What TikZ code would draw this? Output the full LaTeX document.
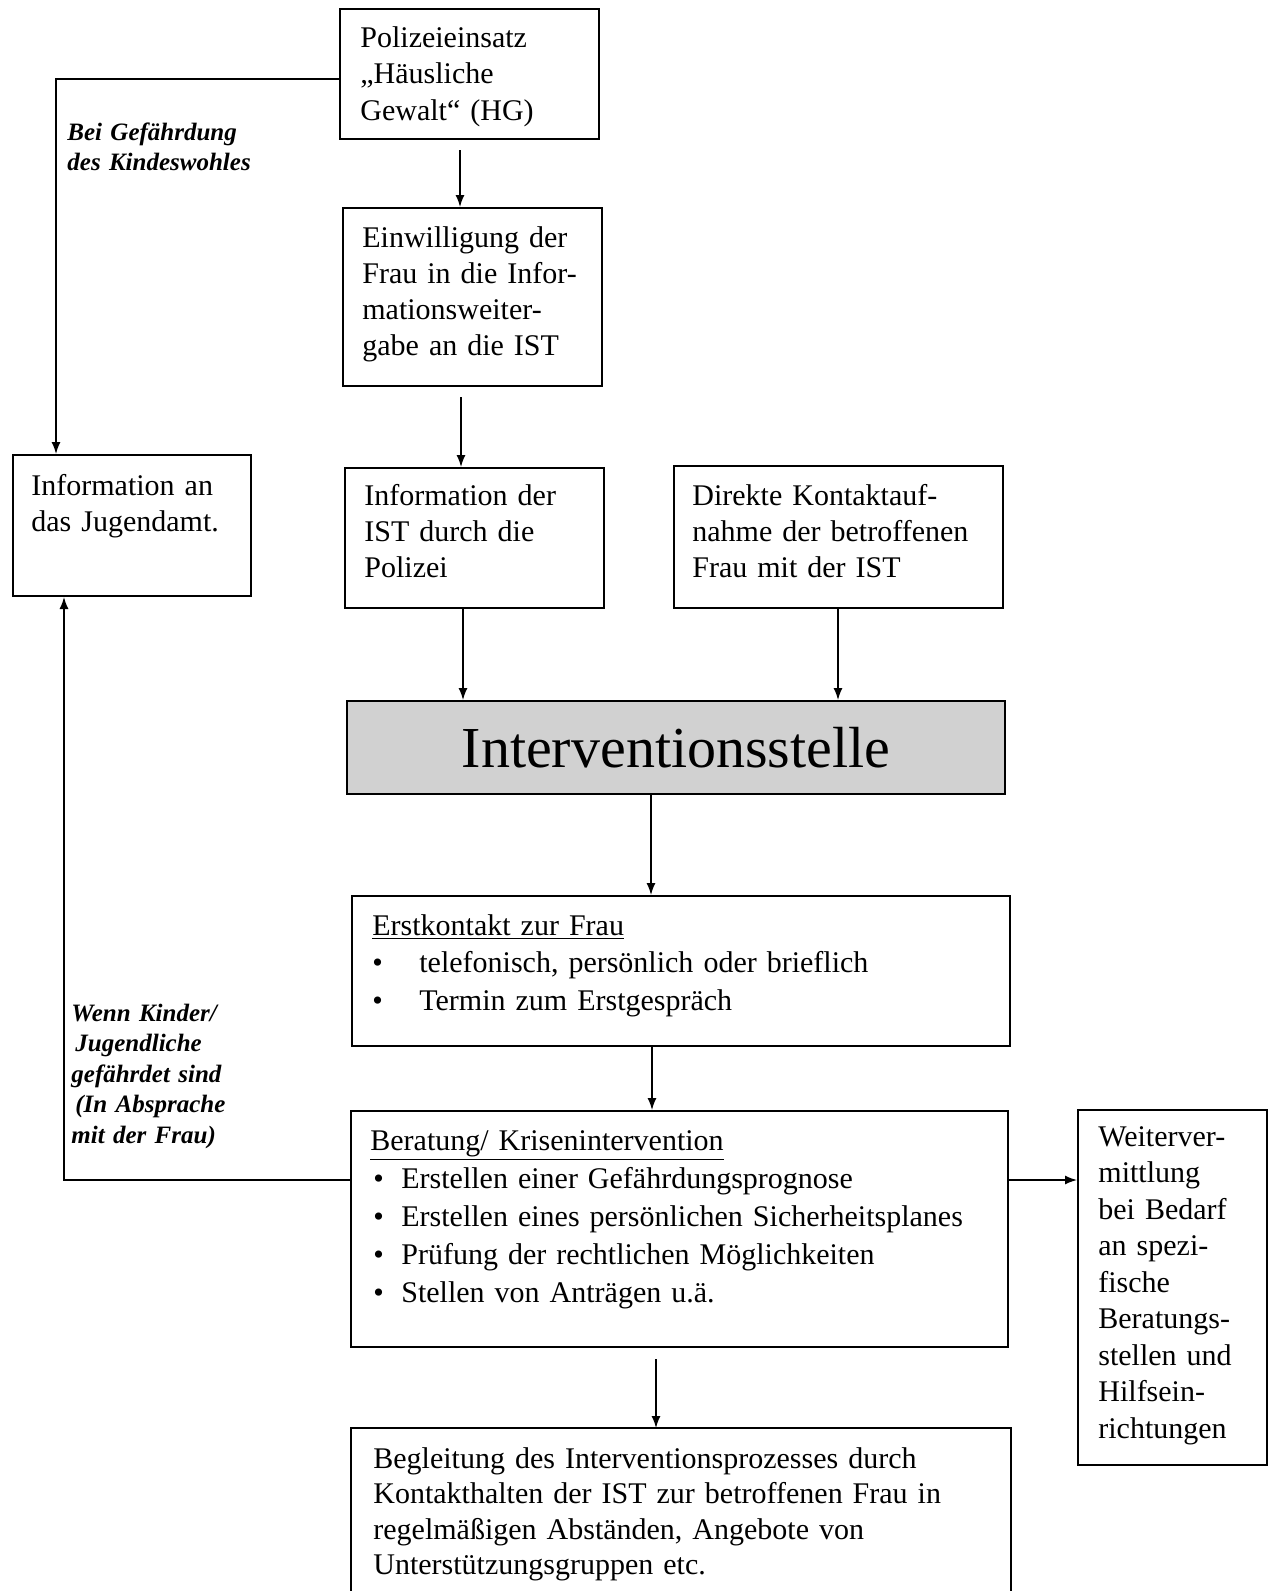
\documentclass[tikz,border=0pt]{standalone}
\usepackage{fontspec}
\setmainfont{Liberation Serif}
\usetikzlibrary{arrows.meta}
\begin{document}
\begin{tikzpicture}[x=0.5pt,y=-0.5pt,
  box/.style={draw, line width=1pt, inner sep=0pt, anchor=north west},
  txt/.style={anchor=base west, inner sep=0pt, align=left, text width=300pt, font=\fontsize{15}{18.25}\selectfont},
  lbl/.style={anchor=base west, inner sep=0pt, align=left, text width=120pt, font=\fontsize{12.5}{15}\selectfont\bfseries\itshape},
  conn/.style={line width=0.7pt, -{Latex[length=6pt,width=4.5pt]}},
]
\useasboundingbox (0,0) rectangle (1271,1591);

% boxes
\node[box, minimum width=129.5pt, minimum height=65pt] (pol) at (339,8) {};
\node[box, minimum width=129.5pt, minimum height=89pt] (ein) at (342,207) {};
\node[box, minimum width=119pt, minimum height=70.5pt] (jug) at (12,454) {};
\node[box, minimum width=129.5pt, minimum height=70pt] (ist) at (344,467) {};
\node[box, minimum width=164.5pt, minimum height=71pt] (dir) at (673,465) {};
\node[box, fill=black!18, minimum width=329pt, minimum height=46.5pt] (itv) at (346,700) {};
\node[box, minimum width=329pt, minimum height=75pt] (erst) at (351,895) {};
\node[box, minimum width=328.5pt, minimum height=118pt] (ber) at (350,1110) {};
\node[box, minimum width=94.5pt, minimum height=177.5pt] (wei) at (1077,1109) {};
\node[box, draw=none, minimum width=329pt, minimum height=90pt] (begl) at (351,1428) {};
\draw[line width=1pt] (begl.south west) -- (begl.north west) -- (begl.north east) -- (begl.south east);

% texts
\node[txt] (polt) at (360,47) {Polizeieinsatz\\„Häusliche\\Gewalt“ (HG)};
\node[txt, font=\fontsize{15}{18.15}\selectfont] (eint) at (362,247) {Einwilligung der\\Frau in die Infor-\\mationsweiter-\\gabe an die IST};
\node[txt, font=\fontsize{15}{18}\selectfont] (jugt) at (31,495) {Information an\\das Jugendamt.};
\node[txt, font=\fontsize{15}{18}\selectfont] (istt) at (364,505) {Information der\\IST durch die\\Polizei};
\node[txt, font=\fontsize{15}{18}\selectfont] (dirt) at (692,505) {Direkte Kontaktauf-\\nahme der betroffenen\\Frau mit der IST};
\node[inner sep=0pt, font=\fontsize{29}{32}\selectfont] (itvt) at (itv.center) {Interventionsstelle};
\node[txt, font=\fontsize{15}{18.75}\selectfont] (erstt) at (372,935) {\underline{Erstkontakt zur Frau}\\
\makebox[23.5pt][l]{\textbullet}telefonisch, persönlich oder brieflich\\
\makebox[23.5pt][l]{\textbullet}Termin zum Erstgespräch};
\node[txt, font=\fontsize{15}{19}\selectfont] (bert) at (370,1150) {\underline{Beratung/ Krisenintervention}\\
\hspace*{1.5pt}\makebox[14pt][l]{\textbullet}Erstellen einer Gefährdungsprognose\\
\hspace*{1.5pt}\makebox[14pt][l]{\textbullet}Erstellen eines persönlichen Sicherheitsplanes\\
\hspace*{1.5pt}\makebox[14pt][l]{\textbullet}Prüfung der rechtlichen Möglichkeiten\\
\hspace*{1.5pt}\makebox[14pt][l]{\textbullet}Stellen von Anträgen u.ä.};
\node[txt, font=\fontsize{15}{18.25}\selectfont] (weit) at (1098,1146) {Weiterver-\\mittlung\\bei Bedarf\\an spezi-\\fische\\Beratungs-\\stellen und\\Hilfsein-\\richtungen};
\node[txt, font=\fontsize{15}{17.75}\selectfont] (beglt) at (373,1468) {Begleitung des Interventionsprozesses durch\\Kontakthalten der IST zur betroffenen Frau in\\regelmäßigen Abständen, Angebote von\\Unterstützungsgruppen etc.};

% labels
\node[lbl] (l1) at (67,140) {Bei Gefährdung\\des Kindeswohles};
\node[lbl, font=\fontsize{12.5}{15.25}\selectfont\bfseries\itshape] (l2) at (71,1021) {Wenn Kinder/\\\hspace*{2pt}Jugendliche\\gefährdet sind\\\hspace*{2pt}(In Absprache\\mit der Frau)};

% column / row helpers
\coordinate (c1) at (460,0);
\coordinate (c2) at (461,0);
\coordinate (c3) at (463,0);
\coordinate (c4) at (838,0);
\coordinate (c5) at (651,0);
\coordinate (c6) at (652,0);
\coordinate (c7) at (656,0);
\coordinate (jl) at (56,0);
\coordinate (jr) at (64,0);
\coordinate (rt) at (0,79);
\coordinate (rr) at (0,1180);

% connectors
\draw[conn, shorten <=5pt] (pol.south -| c1) -- (ein.north -| c1);
\draw[conn, shorten <=5pt] (ein.south -| c2) -- (ist.north -| c2);
\draw[conn] (ist.south -| c3) -- (itv.north -| c3);
\draw[conn] (dir.south -| c4) -- (itv.north -| c4);
\draw[conn] (itv.south -| c5) -- (erst.north -| c5);
\draw[conn] (erst.south -| c6) -- (ber.north -| c6);
\draw[conn, shorten <=5.5pt] (ber.south -| c7) -- (begl.north -| c7);
\draw[conn] (ber.east |- rr) -- (wei.west |- rr);
\draw[conn] (pol.west |- rt) -- (jl |- rt) -- (jug.north -| jl);
\draw[conn] (ber.west |- rr) -- (jr |- rr) -- (jug.south -| jr);
\end{tikzpicture}
\end{document}
